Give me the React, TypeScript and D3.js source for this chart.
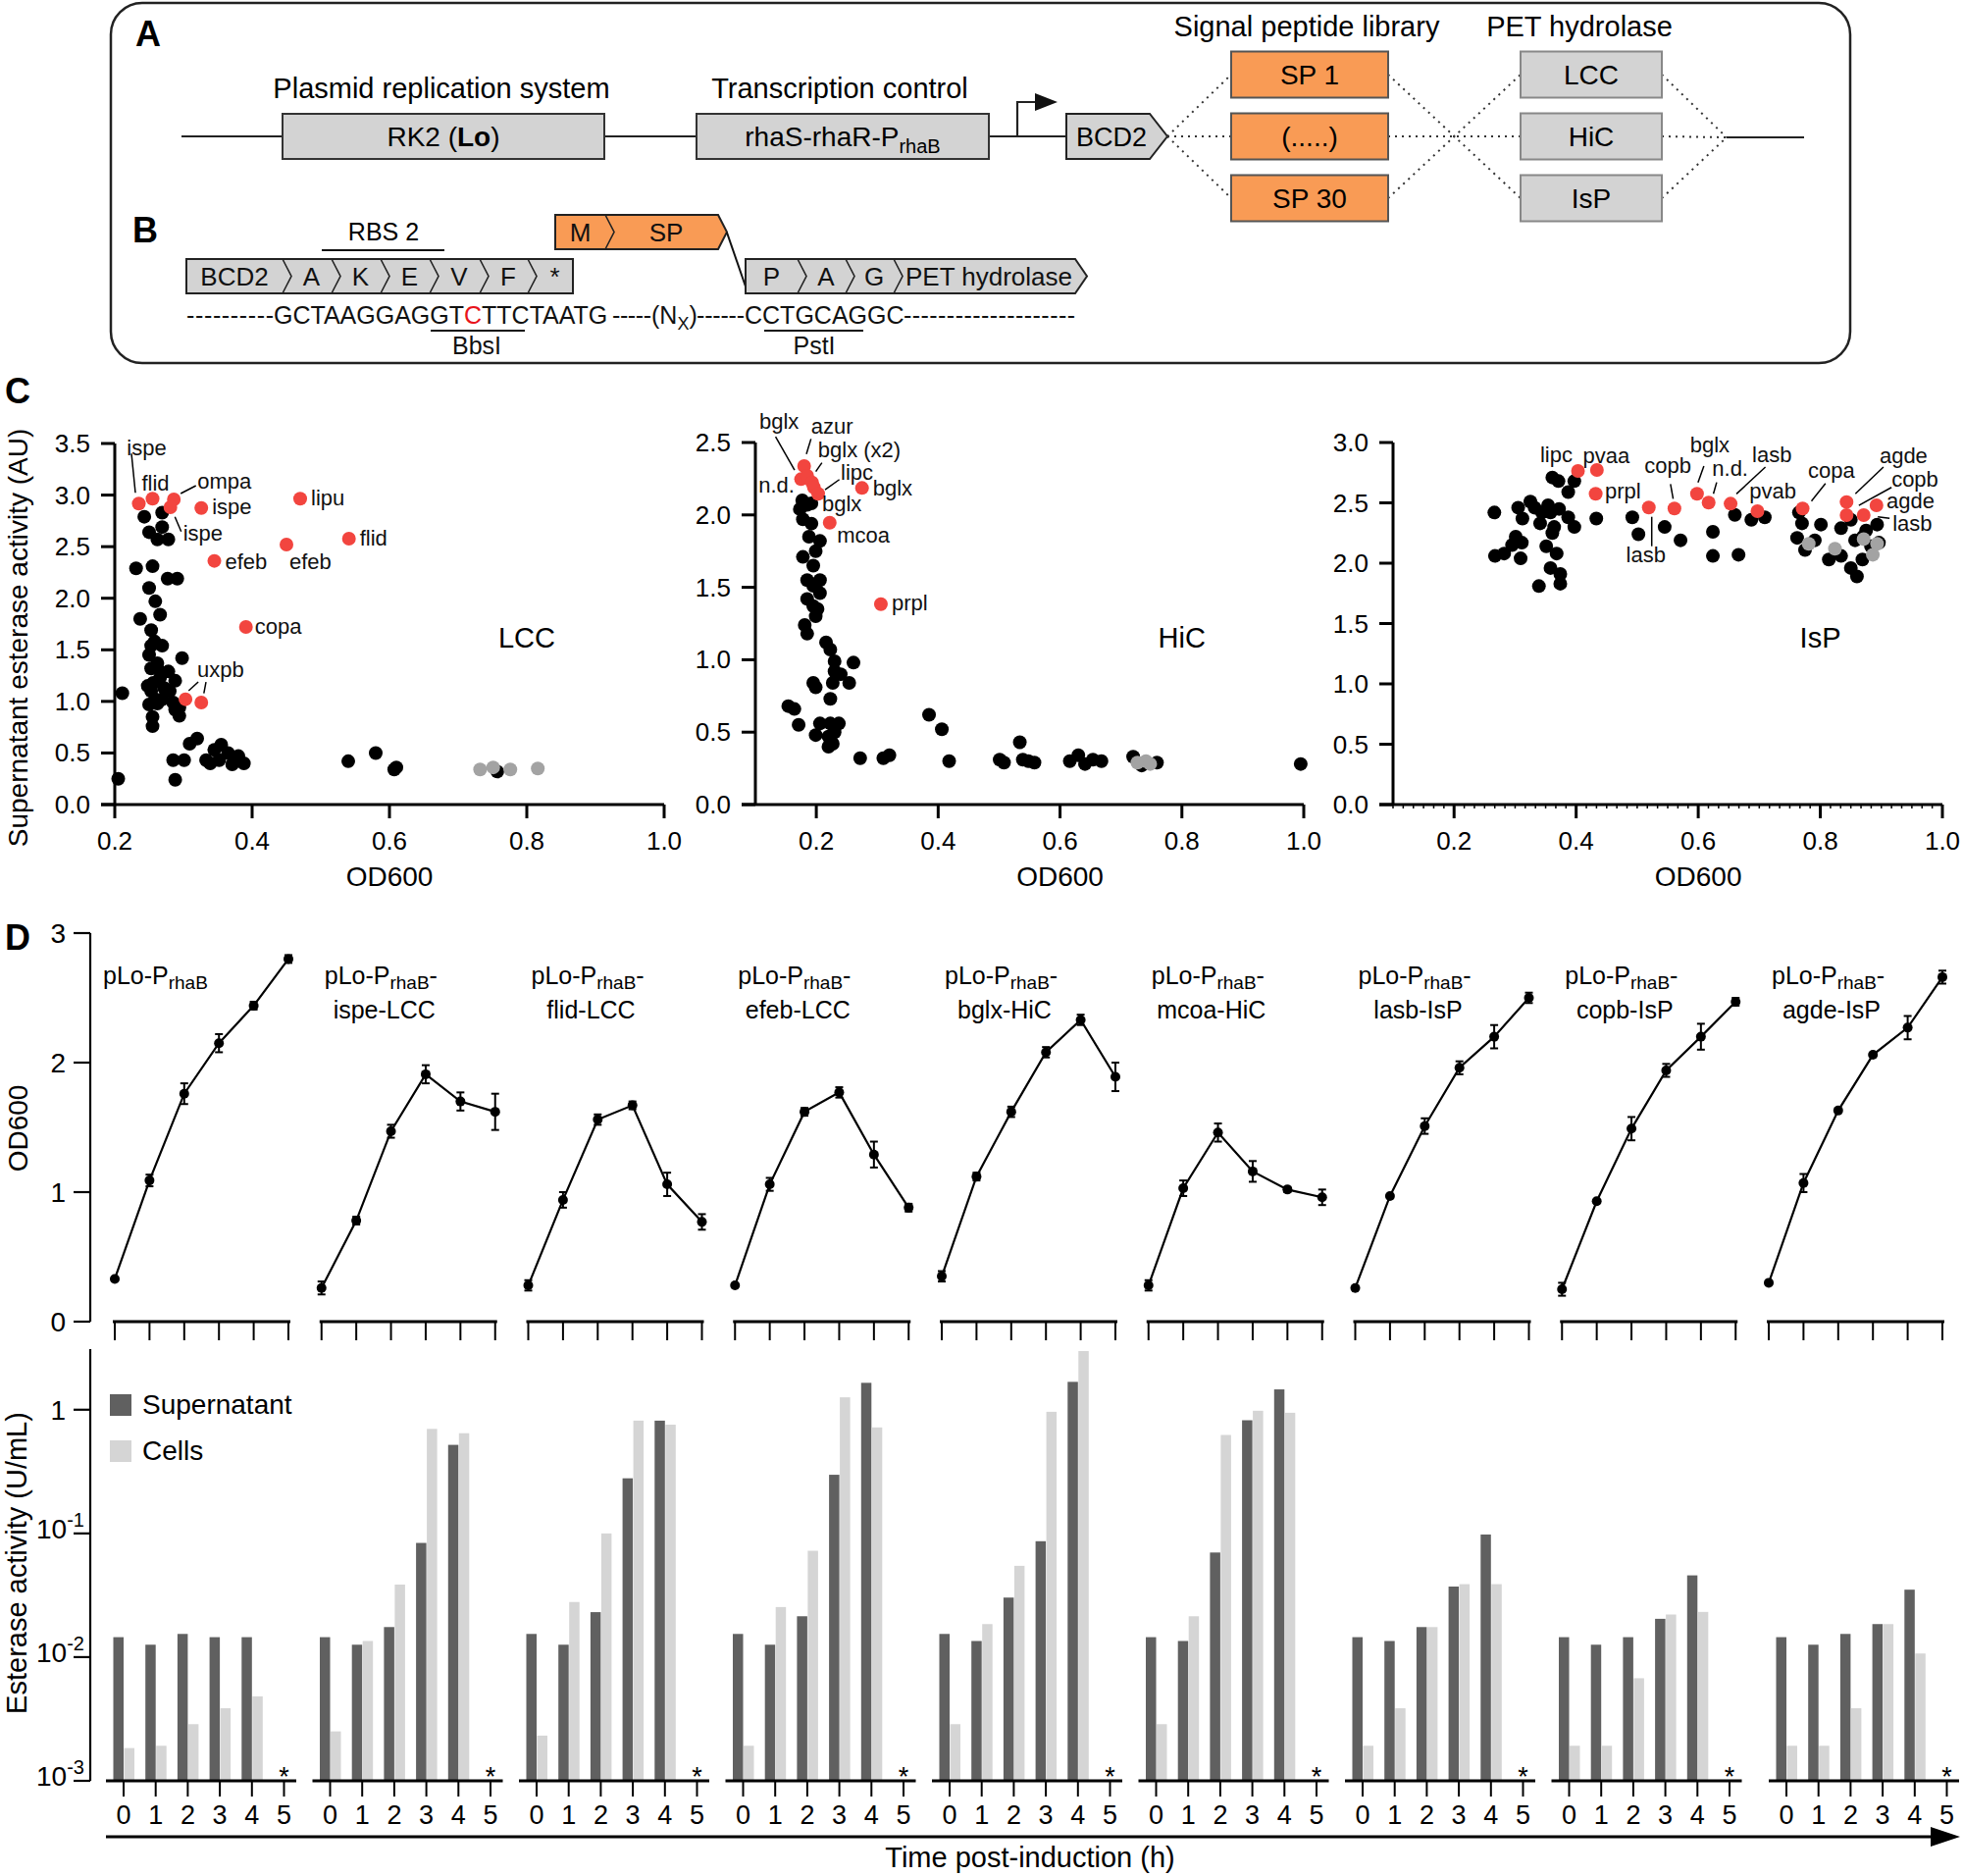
import React from 'react';
import * as d3 from 'd3';

const FONT = "'Liberation Sans', Arial, Helvetica, sans-serif";
const RED = '#F2453F';
const GRAY_PT = '#A3A3A3';
const DARK_BAR = '#606060';
const LIGHT_BAR = '#D5D5D5';
const ORANGE = '#F99B55';
const BOX_GRAY = '#D3D3D3';

// ---------------- Panel C data: [OD600, supernatant esterase activity] ----------------
const lccBlack: [number, number][] = [
  [0.243, 2.79], [0.269, 2.83], [0.25, 2.64], [0.269, 2.69], [0.262, 2.57], [0.278, 2.57],
  [0.231, 2.29], [0.255, 2.31], [0.277, 2.19], [0.291, 2.19], [0.25, 2.1], [0.259, 1.97],
  [0.266, 1.84], [0.237, 1.8], [0.253, 1.69], [0.253, 1.54], [0.269, 1.54], [0.25, 1.45],
  [0.298, 1.42], [0.262, 1.37], [0.253, 1.32], [0.278, 1.29], [0.266, 1.23], [0.288, 1.2],
  [0.256, 1.18], [0.272, 1.13], [0.253, 1.1], [0.259, 1.02], [0.269, 1.02], [0.25, 0.97],
  [0.285, 0.99], [0.294, 0.94], [0.288, 0.92], [0.294, 0.86], [0.255, 0.85], [0.255, 0.76],
  [0.258, 1.58], [0.28, 1.1], [0.268, 1.28], [0.248, 1.15], [0.262, 0.98],
  [0.211, 1.08], [0.205, 0.25], [0.285, 0.43], [0.288, 0.24], [0.301, 0.43], [0.309, 0.59],
  [0.32, 0.64], [0.333, 0.43], [0.345, 0.53], [0.355, 0.58], [0.352, 0.43], [0.365, 0.5],
  [0.371, 0.39], [0.38, 0.47], [0.388, 0.4], [0.339, 0.4], [0.54, 0.42], [0.58, 0.5],
  [0.607, 0.34], [0.61, 0.36], [0.757, 0.32],
];
const lccGray: [number, number][] = [[0.732, 0.34], [0.751, 0.36], [0.776, 0.34], [0.816, 0.35]];
const lccRed: [number, number][] = [
  [0.235, 2.917], [0.255, 2.965], [0.286, 2.958], [0.281, 2.882], [0.326, 2.875], [0.47, 2.965],
  [0.541, 2.578], [0.45, 2.52], [0.345, 2.362], [0.391, 1.722], [0.303, 1.021], [0.326, 0.989],
];

const hicBlack: [number, number][] = [
  [0.177, 2.1], [0.173, 2.04], [0.185, 2.07], [0.192, 2.08], [0.178, 1.97], [0.192, 1.94],
  [0.188, 1.85], [0.206, 1.82], [0.199, 1.75], [0.178, 1.71], [0.195, 1.65], [0.206, 1.55],
  [0.185, 1.55], [0.195, 1.51], [0.206, 1.46], [0.185, 1.42], [0.195, 1.37], [0.202, 1.35],
  [0.199, 1.3], [0.181, 1.24], [0.185, 1.18], [0.216, 1.12], [0.223, 1.07], [0.23, 0.99],
  [0.261, 0.98], [0.23, 0.92], [0.24, 0.9], [0.227, 0.84], [0.254, 0.84], [0.195, 0.84],
  [0.199, 0.81], [0.223, 0.73], [0.154, 0.68], [0.164, 0.66], [0.171, 0.55], [0.199, 0.48],
  [0.206, 0.56], [0.223, 0.56], [0.237, 0.56], [0.22, 0.47], [0.23, 0.5], [0.227, 0.42],
  [0.22, 0.4], [0.272, 0.32], [0.31, 0.32], [0.32, 0.34], [0.385, 0.62], [0.406, 0.52],
  [0.418, 0.3], [0.501, 0.31], [0.508, 0.29], [0.534, 0.43], [0.539, 0.31], [0.558, 0.29],
  [0.548, 0.3], [0.616, 0.3], [0.63, 0.34], [0.641, 0.28], [0.654, 0.31], [0.668, 0.3],
  [0.72, 0.33], [0.734, 0.27], [0.759, 0.29], [0.995, 0.28],
];
const hicGray: [number, number][] = [[0.727, 0.29], [0.741, 0.3], [0.748, 0.28]];
const hicRed: [number, number][] = [
  [0.18, 2.337], [0.175, 2.247], [0.185, 2.27], [0.193, 2.224], [0.196, 2.19], [0.203, 2.146],
  [0.275, 2.186], [0.222, 1.946], [0.306, 1.384],
];

const ispBlack: [number, number][] = [
  [0.266, 2.42], [0.267, 2.06], [0.282, 2.08], [0.295, 2.15], [0.301, 2.22], [0.311, 2.17],
  [0.309, 2.04], [0.305, 2.46], [0.325, 2.51], [0.312, 2.37], [0.332, 2.46], [0.344, 2.42],
  [0.341, 2.33], [0.354, 2.48], [0.358, 2.42], [0.372, 2.45], [0.364, 2.3], [0.387, 2.38],
  [0.397, 2.3], [0.351, 2.14], [0.368, 2.08], [0.358, 1.96], [0.374, 1.91], [0.339, 1.81],
  [0.374, 1.83], [0.361, 2.25], [0.361, 2.71], [0.371, 2.68], [0.387, 2.59], [0.397, 2.68],
  [0.433, 2.37], [0.492, 2.38], [0.502, 2.24], [0.545, 2.3], [0.571, 2.19], [0.624, 2.26],
  [0.624, 2.06], [0.66, 2.4], [0.666, 2.07], [0.687, 2.36], [0.709, 2.38], [0.765, 2.42],
  [0.77, 2.33], [0.762, 2.21], [0.775, 2.11], [0.791, 2.19], [0.801, 2.32], [0.814, 2.03],
  [0.834, 2.29], [0.834, 2.06], [0.85, 2.36], [0.857, 2.19], [0.85, 1.96], [0.86, 1.89],
  [0.869, 2.03], [0.875, 2.27], [0.883, 2.14], [0.893, 2.32], [0.896, 2.17], [0.87, 2.22],
];
const ispGray: [number, number][] = [[0.781, 2.16], [0.824, 2.12], [0.871, 2.2], [0.886, 2.07], [0.893, 2.16]];
const ispRed: [number, number][] = [
  [0.403, 2.764], [0.434, 2.772], [0.432, 2.575], [0.519, 2.461], [0.561, 2.453], [0.598, 2.575],
  [0.617, 2.502], [0.653, 2.493], [0.697, 2.431], [0.771, 2.453], [0.843, 2.507], [0.843, 2.398],
  [0.871, 2.398], [0.892, 2.48],
];

type Note = { i: number; t: string; dx: number; dy: number; a?: string; l?: number[] };
const lccNotes: Note[] = [
  { i: 0, t: 'ispe', dx: 8, dy: -49, a: 'middle', l: [-7.5, -51, -3.5, -11] },
  { i: 1, t: 'flid', dx: 3, dy: -8, a: 'middle' },
  { i: 2, t: 'ompa', dx: 24, dy: -11, l: [7, -6, 22.5, -14] },
  { i: 3, t: 'ispe', dx: 13, dy: 34, l: [4.6, 9.7, 11, 24.7] },
  { i: 4, t: 'ispe', dx: 11, dy: 6 },
  { i: 5, t: 'lipu', dx: 11, dy: 7 },
  { i: 6, t: 'flid', dx: 11, dy: 7 },
  { i: 7, t: 'efeb', dx: 3, dy: 25 },
  { i: 8, t: 'efeb', dx: 11, dy: 8 },
  { i: 9, t: 'copa', dx: 9, dy: 7 },
  { i: 10, t: 'uxpb', dx: 12, dy: -23, l: [3.2, -8.7, 13, -17.7] },
  { i: 11, t: '', dx: 0, dy: 0, l: [2.6, -9.3, 4.8, -21] },
];
const hicNotes: Note[] = [
  { i: 1, t: 'bglx', dx: -42.6, dy: -51, l: [-26, -43.3, -6.6, -9.3] },
  { i: 0, t: 'azur', dx: 7, dy: -33, l: [7, -27.7, 2.3, -12.3] },
  { i: 2, t: 'bglx (x2)', dx: 11, dy: -19, l: [15, -13.3, 8.8, -4.3] },
  { i: 4, t: 'lipc', dx: 27.4, dy: -7.5, l: [26, -8, 11.4, 2.3] },
  { i: 1, t: 'n.d.', dx: -6.6, dy: 13.7, a: 'end' },
  { i: 5, t: 'bglx', dx: 4, dy: 17.5 },
  { i: 6, t: 'bglx', dx: 11, dy: 8 },
  { i: 7, t: 'mcoa', dx: 7.5, dy: 20.3 },
  { i: 8, t: 'prpl', dx: 11, dy: 6 },
];
const ispNotes: Note[] = [
  { i: 0, t: 'lipc', dx: -5.6, dy: -9, a: 'end' },
  { i: 1, t: 'pvaa', dx: -14.3, dy: -7 },
  { i: 2, t: 'prpl', dx: 9.5, dy: 5 },
  { i: 3, t: 'lasb', dx: -3, dy: 55.7, a: 'middle', l: [3, 9.4, 3, 39.4] },
  { i: 4, t: 'copb', dx: -6.7, dy: -36.3, a: 'middle', l: [-4, -25, -1.3, -10] },
  { i: 5, t: 'bglx', dx: 13, dy: -42.3, a: 'middle', l: [7, -28.3, 1, -11.6] },
  { i: 6, t: 'n.d.', dx: 3.6, dy: -27.3, l: [8.2, -20.6, 4.9, -9] },
  { i: 7, t: 'lasb', dx: 22, dy: -42.3, l: [35.5, -37.3, 6, -10] },
  { i: 8, t: 'pvab', dx: -8.3, dy: -13 },
  { i: 9, t: 'copa', dx: 5.5, dy: -31.3, l: [23.3, -25.6, 9, -7.6] },
  { i: 10, t: 'agde', dx: 33.6, dy: -39.7, l: [37.6, -35.7, 9, -8.4] },
  { i: 12, t: 'copb', dx: 28.4, dy: -29, l: [28.4, -28.3, -4.9, -10] },
  { i: 13, t: 'agde', dx: 10.3, dy: 3 },
  { i: 12, t: 'lasb', dx: 29.4, dy: 16, l: [14.4, 1.7, 26.4, 3.3] },
];

// ---------------- Panel D data ----------------
const strains = ['', 'ispe-LCC', 'flid-LCC', 'efeb-LCC', 'bglx-HiC', 'mcoa-HiC', 'lasb-IsP', 'copb-IsP', 'agde-IsP'];
const hours = [0, 1, 2, 3, 4, 5];
const odMean = [
  [0.33, 1.09, 1.76, 2.15, 2.44, 2.8],
  [0.26, 0.78, 1.47, 1.91, 1.7, 1.62],
  [0.28, 0.94, 1.56, 1.67, 1.06, 0.77],
  [0.28, 1.06, 1.62, 1.77, 1.29, 0.88],
  [0.35, 1.12, 1.62, 2.08, 2.33, 1.89],
  [0.28, 1.03, 1.46, 1.16, 1.02, 0.96],
  [0.26, 0.97, 1.51, 1.96, 2.2, 2.5],
  [0.25, 0.93, 1.49, 1.94, 2.2, 2.47],
  [0.3, 1.07, 1.63, 2.06, 2.27, 2.66],
];
const odErr = [
  [0.01, 0.045, 0.08, 0.07, 0.03, 0.03],
  [0.05, 0.03, 0.05, 0.07, 0.07, 0.14],
  [0.04, 0.06, 0.04, 0.03, 0.09, 0.06],
  [0.0, 0.05, 0.03, 0.04, 0.1, 0.03],
  [0.04, 0.03, 0.04, 0.04, 0.04, 0.11],
  [0.04, 0.06, 0.07, 0.08, 0.02, 0.06],
  [0.0, 0.0, 0.06, 0.05, 0.09, 0.04],
  [0.05, 0.0, 0.09, 0.05, 0.1, 0.03],
  [0.0, 0.07, 0.0, 0.0, 0.09, 0.05],
];
const supernatant = [
  [0.0145, 0.0126, 0.0154, 0.0145, 0.0145],
  [0.0145, 0.0126, 0.0175, 0.0838, 0.52],
  [0.0154, 0.0126, 0.0231, 0.279, 0.816],
  [0.0154, 0.0126, 0.0214, 0.298, 1.65],
  [0.0154, 0.0135, 0.0303, 0.0865, 1.68],
  [0.0145, 0.0135, 0.0701, 0.822, 1.46],
  [0.0145, 0.0135, 0.0175, 0.0372, 0.098],
  [0.0145, 0.0126, 0.0145, 0.0204, 0.0458],
  [0.0145, 0.0126, 0.0154, 0.0185, 0.0351],
];
const cells = [
  [0.00184, 0.00192, 0.00287, 0.00386, 0.00482],
  [0.00251, 0.0135, 0.0386, 0.7, 0.646],
  [0.00232, 0.0279, 0.1, 0.816, 0.757],
  [0.00192, 0.0254, 0.0724, 1.26, 0.719],
  [0.00287, 0.0185, 0.0547, 0.962, 2.98],
  [0.00287, 0.0214, 0.625, 0.981, 0.945],
  [0.00192, 0.00386, 0.0175, 0.0389, 0.0389],
  [0.00192, 0.00192, 0.00675, 0.0221, 0.0232],
  [0.00192, 0.00192, 0.00386, 0.0185, 0.0107],
];
const logTicks = [1, 0.1, 0.01, 0.001];
const odTicks = [0, 1, 2, 3];

// ---------------- Panel A/B content ----------------
const spLabels = ['SP 1', '(.....)', 'SP 30'];
const hydrolases = ['LCC', 'HiC', 'IsP'];
const rbsRow = ['BCD2', 'A', 'K', 'E', 'V', 'F', '*'];
const pagRow = ['P', 'A', 'G', 'PET hydrolase'];

function ChevronRow({ xs, y0, h, labels, fill, tip, notch = 9, fs = 26 }: any) {
  const last = xs[xs.length - 1];
  const mid = y0 + h / 2;
  const outline = tip
    ? `M${xs[0]},${y0}H${last}L${last + tip},${mid}L${last},${y0 + h}H${xs[0]}Z`
    : `M${xs[0]},${y0}H${last}V${y0 + h}H${xs[0]}Z`;
  return (
    <g>
      <path d={outline} fill={fill} stroke="#222" strokeWidth={2} />
      {xs.slice(1, -1).map((x: number, k: number) => (
        <polyline key={k} points={`${x},${y0} ${x + notch},${mid} ${x},${y0 + h}`} fill="none" stroke="#222" strokeWidth={1.6} />
      ))}
      {labels.map((lb: string, k: number) => (
        <text key={k} x={(xs[k] + xs[k + 1]) / 2 + (k > 0 ? notch / 2 : 0)} y={mid + 9.5} fontSize={fs} textAnchor="middle" fill="#111">{lb}</text>
      ))}
    </g>
  );
}

function PanelAB() {
  const rowY = [76, 139, 202];
  const dot = { stroke: '#333', strokeWidth: 2, strokeDasharray: '2 5' } as any;
  const solid = { stroke: '#222', strokeWidth: 2.2 } as any;
  return (
    <g>
      <rect x={113} y={3} width={1773} height={367} rx={32} fill="none" stroke="#222" strokeWidth={2.5} />
      <text x={151} y={47} fontSize={36} fontWeight="bold" textAnchor="middle">A</text>
      <text x={450} y={100} fontSize={29} textAnchor="middle">Plasmid replication system</text>
      <text x={856} y={100} fontSize={29} textAnchor="middle">Transcription control</text>
      <text x={1332} y={37} fontSize={29} textAnchor="middle">Signal peptide library</text>
      <text x={1610} y={37} fontSize={29} textAnchor="middle">PET hydrolase</text>
      <line x1={185} y1={139} x2={288} y2={139} {...solid} />
      <line x1={616} y1={139} x2={710} y2={139} {...solid} />
      <line x1={1008} y1={139} x2={1087} y2={139} {...solid} />
      <rect x={288} y={116} width={328} height={46} fill={BOX_GRAY} stroke="#333" strokeWidth={2} />
      <text x={452} y={149} fontSize={28} textAnchor="middle">RK2 (<tspan fontWeight="bold">Lo</tspan>)</text>
      <rect x={710} y={116} width={298} height={46} fill={BOX_GRAY} stroke="#333" strokeWidth={2} />
      <text x={859} y={149} fontSize={28} textAnchor="middle">rhaS-rhaR-P<tspan fontSize={20} dy={7}>rhaB</tspan></text>
      <path d="M1037,139V104H1058" fill="none" {...solid} />
      <polygon points="1055,95 1078,104 1055,113" fill="#111" />
      <path d="M1087,116H1172L1190,139L1172,162H1087Z" fill={BOX_GRAY} stroke="#222" strokeWidth={2} />
      <text x={1133} y={149} fontSize={27} textAnchor="middle">BCD2</text>
      {rowY.map((y, k) => (
        <line key={'a' + k} x1={1190} y1={139} x2={1255} y2={y} {...dot} />
      ))}
      {rowY.map((y, k) => (
        <line key={'b' + k} x1={1415} y1={y} x2={1550} y2={rowY[2 - k]} {...dot} />
      ))}
      {rowY.map((y, k) => (
        <line key={'c' + k} x1={1694} y1={y} x2={1760} y2={140} {...dot} />
      ))}
      <line x1={1760} y1={140} x2={1839} y2={140} {...solid} />
      {spLabels.map((s, k) => (
        <g key={s}>
          <rect x={1255} y={rowY[k] - 23.5} width={160} height={47} fill={ORANGE} stroke="#555" strokeWidth={2} />
          <text x={1335} y={rowY[k] + 10} fontSize={28} textAnchor="middle">{s}</text>
        </g>
      ))}
      {hydrolases.map((s, k) => (
        <g key={s}>
          <rect x={1550} y={rowY[k] - 23.5} width={144} height={47} fill={BOX_GRAY} stroke="#888" strokeWidth={2} />
          <text x={1622} y={rowY[k] + 10} fontSize={28} textAnchor="middle">{s}</text>
        </g>
      ))}

      {/* Panel B */}
      <text x={148} y={247} fontSize={36} fontWeight="bold" textAnchor="middle">B</text>
      <text x={391} y={245} fontSize={25} textAnchor="middle">RBS 2</text>
      <line x1={328} y1={255} x2={453} y2={255} stroke="#111" strokeWidth={2} />
      <ChevronRow xs={[190, 288, 338, 388, 438, 489, 538, 584]} y0={264} h={35} labels={rbsRow} fill={BOX_GRAY} />
      <ChevronRow xs={[566, 617, 732]} y0={219} h={35} labels={['M', 'SP']} fill={ORANGE} tip={9} />
      <line x1={741} y1={237} x2={760} y2={292} stroke="#111" strokeWidth={2} />
      <ChevronRow xs={[760, 813, 862, 911, 1096]} y0={264} h={35} labels={pagRow} fill={BOX_GRAY} tip={12} />
      <g fontSize={25} fill="#111">
        <text x={190} y={330} textLength={89} lengthAdjust="spacing">----------</text>
        <text x={279} y={330}>GCTAAGGAGGT<tspan fill="#E8141B">C</tspan>TTCTAATG</text>
        <text x={624} y={330} textLength={40} lengthAdjust="spacing">-----</text>
        <text x={664} y={330}>(N<tspan fontSize={18} dy={6}>X</tspan><tspan dy={-6}>)</tspan></text>
        <text x={710} y={330} textLength={49} lengthAdjust="spacing">------</text>
        <text x={759} y={330}>CCTGCAGGC</text>
        <text x={921} y={330} textLength={175} lengthAdjust="spacing">--------------------</text>
        <text x={486} y={361} textAnchor="middle">BbsI</text>
        <text x={830} y={361} textAnchor="middle">PstI</text>
      </g>
      <line x1={439} y1={337} x2={535} y2={337} stroke="#111" strokeWidth={2} />
      <line x1={779} y1={337} x2={880} y2={337} stroke="#111" strokeWidth={2} />
    </g>
  );
}

// ---------------- Panel C ----------------
const scatterPanels = [
  { name: 'LCC', xDomain: [0.2, 1.0], xRange: [117, 677], yMax: 3.5, yTop: 452, black: lccBlack, gray: lccGray, red: lccRed, notes: lccNotes, minor: false },
  { name: 'HiC', xDomain: [0.1, 1.0], xRange: [770, 1329], yMax: 2.5, yTop: 451, black: hicBlack, gray: hicGray, red: hicRed, notes: hicNotes, minor: false },
  { name: 'IsP', xDomain: [0.1, 1.0], xRange: [1420, 1980], yMax: 3.0, yTop: 451, black: ispBlack, gray: ispGray, red: ispRed, notes: ispNotes, minor: true },
];
const xTickVals = [0.2, 0.4, 0.6, 0.8, 1.0];

function Scatter({ p }: any) {
  const yB = 820;
  const x = d3.scaleLinear().domain(p.xDomain).range(p.xRange);
  const y = d3.scaleLinear().domain([0, p.yMax]).range([yB, p.yTop]);
  const yTicks = d3.range(0, p.yMax + 0.001, 0.5);
  const x0 = p.xRange[0];
  const f = d3.format('.1f');
  const minorTicks = p.minor ? d3.range(p.xDomain[0], p.xDomain[1] + 1e-6, 1 / 60) : [];
  const r = 7;
  return (
    <g>
      <line x1={x0} y1={yB} x2={x0} y2={p.yTop} stroke="#000" strokeWidth={3} />
      <line x1={x0 - 14} y1={yB} x2={p.xRange[1]} y2={yB} stroke="#000" strokeWidth={3} />
      {yTicks.map((t: number) => (
        <g key={'y' + t}>
          <line x1={x0 - 14} x2={x0} y1={y(t)} y2={y(t)} stroke="#000" strokeWidth={3} />
          <text x={x0 - 25} y={y(t) + 9} fontSize={26} textAnchor="end">{f(t)}</text>
        </g>
      ))}
      {minorTicks.map((t: number, k: number) => (
        <line key={'m' + k} x1={x(t)} x2={x(t)} y1={yB} y2={yB + 4} stroke="#000" strokeWidth={1.5} />
      ))}
      {xTickVals.map((t) => (
        <g key={'x' + t}>
          <line x1={x(t)} x2={x(t)} y1={yB} y2={yB + 14} stroke="#000" strokeWidth={3} />
          <text x={x(t)} y={866} fontSize={26} textAnchor="middle">{f(t)}</text>
        </g>
      ))}
      <text x={x(0.6)} y={903} fontSize={28} textAnchor="middle">OD600</text>
      <text x={x(0.8)} y={660} fontSize={29} textAnchor="middle">{p.name}</text>
      {p.black.map((d: number[], k: number) => <circle key={'b' + k} cx={x(d[0])} cy={y(d[1])} r={r} fill="#000" />)}
      {p.gray.map((d: number[], k: number) => <circle key={'g' + k} cx={x(d[0])} cy={y(d[1])} r={r} fill={GRAY_PT} />)}
      {p.red.map((d: number[], k: number) => <circle key={'r' + k} cx={x(d[0])} cy={y(d[1])} r={r} fill={RED} />)}
      {p.notes.map((n: Note, k: number) => {
        const cx = x(p.red[n.i][0]);
        const cy = y(p.red[n.i][1]);
        return (
          <g key={'n' + k}>
            {n.l && <line x1={cx + n.l[0]} y1={cy + n.l[1]} x2={cx + n.l[2]} y2={cy + n.l[3]} stroke="#000" strokeWidth={1.5} />}
            {n.t && <text x={cx + n.dx} y={cy + n.dy} fontSize={22} textAnchor={n.a || 'start'} fill="#111">{n.t}</text>}
          </g>
        );
      })}
    </g>
  );
}

function PanelC() {
  return (
    <g>
      <text x={18} y={411} fontSize={36} fontWeight="bold" textAnchor="middle">C</text>
      <text transform="translate(28,650) rotate(-90)" fontSize={28} textAnchor="middle">Supernatant esterase activity (AU)</text>
      {scatterPanels.map((p) => <Scatter key={p.name} p={p} />)}
    </g>
  );
}

// ---------------- Panel D ----------------
function PanelD() {
  const yOD = d3.scaleLinear().domain([0, 3]).range([1347, 951]);
  const topStart = d3.scaleLinear().domain([0, 8]).range([115, 1801]);
  const botStart = (g: number) => (g < 8 ? 108 + g * 210.5 : 1803);
  const yLog = d3.scaleLog().domain([1e-3, Math.pow(10, 0.49)]).range([1815, 1375]);
  const line = d3.line<[number, number]>().x((d) => d[0]).y((d) => d[1]);
  return (
    <g>
      <text x={18} y={968} fontSize={36} fontWeight="bold" textAnchor="middle">D</text>
      {/* top axis */}
      <line x1={92} x2={92} y1={yOD(0)} y2={yOD(3)} stroke="#000" strokeWidth={2.2} />
      {odTicks.map((t) => (
        <g key={'ot' + t}>
          <line x1={75} x2={92} y1={yOD(t)} y2={yOD(t)} stroke="#000" strokeWidth={2.2} />
          <text x={67} y={yOD(t) + 10} fontSize={28} textAnchor="end">{t}</text>
        </g>
      ))}
      <text transform="translate(28,1150) rotate(-90)" fontSize={28} textAnchor="middle">OD600</text>
      {strains.map((s, g) => {
        const x0 = topStart(g);
        const xt = d3.scaleLinear().domain([0, 5]).range([x0 + 2, x0 + 179]);
        const pts: [number, number][] = hours.map((h) => [xt(h), yOD(odMean[g][h])]);
        const lx = x0 + (g === 0 ? -10 : 5);
        return (
          <g key={'top' + g}>
            <line x1={x0} x2={x0 + 181} y1={1347} y2={1347} stroke="#000" strokeWidth={3} />
            {hours.map((h) => (
              <line key={h} x1={xt(h)} x2={xt(h)} y1={1347} y2={1366} stroke="#000" strokeWidth={2} />
            ))}
            <path d={line(pts) || ''} fill="none" stroke="#000" strokeWidth={2.2} />
            {hours.map((h) => {
              const m = odMean[g][h];
              const e = odErr[g][h];
              const cx = xt(h);
              return (
                <g key={'e' + h}>
                  <line x1={cx} x2={cx} y1={yOD(m - e)} y2={yOD(m + e)} stroke="#000" strokeWidth={2} />
                  <line x1={cx - 4} x2={cx + 4} y1={yOD(m - e)} y2={yOD(m - e)} stroke="#000" strokeWidth={2} />
                  <line x1={cx - 4} x2={cx + 4} y1={yOD(m + e)} y2={yOD(m + e)} stroke="#000" strokeWidth={2} />
                  <circle cx={cx} cy={yOD(m)} r={5} fill="#000" />
                </g>
              );
            })}
            <text x={lx} y={1003} fontSize={25}>
              pLo-P<tspan fontSize={19} dy={5}>rhaB</tspan>{g > 0 ? <tspan dy={-5}>-</tspan> : null}
            </text>
            {s && <text x={lx + 61} y={1038} fontSize={25} textAnchor="middle">{s}</text>}
          </g>
        );
      })}

      {/* bottom axis */}
      <line x1={92} x2={92} y1={1815} y2={1375} stroke="#000" strokeWidth={2.2} />
      {logTicks.map((t) => {
        const e = Math.round(Math.log10(t));
        return (
          <g key={'lt' + t}>
            <line x1={75} x2={92} y1={yLog(t)} y2={yLog(t)} stroke="#000" strokeWidth={2.2} />
            {e === 0 ? (
              <text x={67} y={yLog(t) + 10} fontSize={28} textAnchor="end">1</text>
            ) : (
              <text x={86} y={yLog(t) + 5} fontSize={28} textAnchor="end">
                10<tspan fontSize={20} dy={-12}>{'-' + -e}</tspan>
              </text>
            )}
          </g>
        );
      })}
      <text transform="translate(27,1593) rotate(-90)" fontSize={29} textAnchor="middle">Esterase activity (U/mL)</text>
      <rect x={112} y={1421} width={22} height={22} fill={DARK_BAR} />
      <text x={145} y={1441} fontSize={28}>Supernatant</text>
      <rect x={112} y={1468} width={22} height={22} fill={LIGHT_BAR} />
      <text x={145} y={1488} fontSize={28}>Cells</text>
      {strains.map((s, g) => {
        const x0 = botStart(g);
        const xt = d3.scaleLinear().domain([0, 5]).range([x0 + 18, x0 + 181.5]);
        return (
          <g key={'bot' + g}>
            {supernatant[g].map((v, h) => (
              <rect key={'s' + h} x={xt(h) - 10.5} y={yLog(v)} width={10.5} height={1815 - yLog(v)} fill={DARK_BAR} />
            ))}
            {cells[g].map((v, h) => (
              <rect key={'c' + h} x={xt(h) + 0.5} y={yLog(v)} width={10.5} height={1815 - yLog(v)} fill={LIGHT_BAR} />
            ))}
            <line x1={x0} x2={x0 + 194} y1={1815} y2={1815} stroke="#000" strokeWidth={3} />
            {hours.map((h) => (
              <g key={'t' + h}>
                <line x1={xt(h)} x2={xt(h)} y1={1815} y2={1831} stroke="#000" strokeWidth={2} />
                <text x={xt(h)} y={1859} fontSize={27} textAnchor="middle">{h}</text>
              </g>
            ))}
            <text x={xt(5)} y={1820} fontSize={27} textAnchor="middle">*</text>
          </g>
        );
      })}
      <line x1={108} x2={1972} y1={1872} y2={1872} stroke="#000" strokeWidth={3} />
      <polygon points="1968,1862 1998,1872 1968,1882" fill="#000" />
      <text x={1050} y={1903} fontSize={29} textAnchor="middle">Time post-induction (h)</text>
    </g>
  );
}

export default function App() {
  return (
    <div style={{ position: 'absolute', left: 0, top: 0 }}>
      <svg width={2001} height={1912} style={{ display: 'block' }} fontFamily={FONT}>
        <rect width={2001} height={1912} fill="#fff" />
        <PanelAB />
        <PanelC />
        <PanelD />
      </svg>
    </div>
  );
}
